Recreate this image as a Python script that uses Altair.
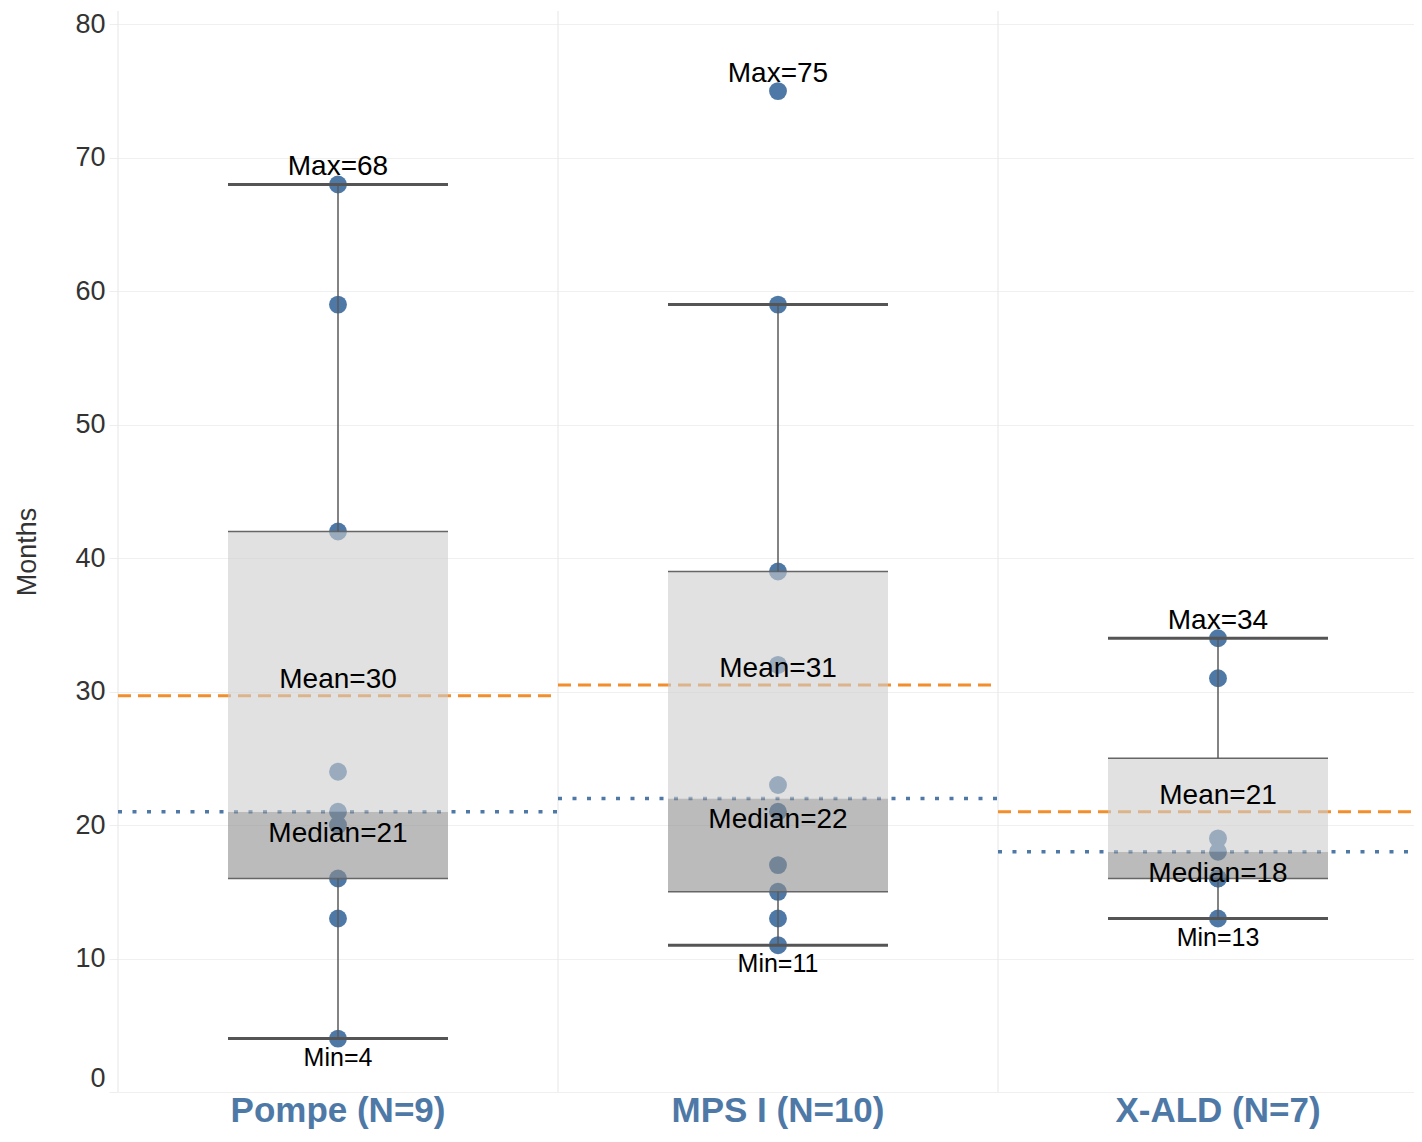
import altair as alt
import pandas as pd

# ---- data ----
categories = ["Pompe (N=9)", "MPS I (N=10)", "X-ALD (N=7)"]
pompe_values = [68, 59, 42, 24, 21, 20, 16, 13, 4]
mps_values = [75, 59, 39, 32, 23, 21, 17, 15, 13, 11]
xald_values = [34, 31, 19, 18, 16, 16, 13]

q1_values = [16, 15, 16]
median_values = [21, 22, 18]
q3_values = [42, 39, 25]
mean_values = [29.7, 30.5, 21.0]
whisker_low = [4, 11, 13]
whisker_high = [68, 59, 34]
max_values = [68, 75, 34]
min_values = [4, 11, 13]
mean_labels = ["Mean=30", "Mean=31", "Mean=21"]
median_labels = ["Median=21", "Median=22", "Median=18"]
max_labels = ["Max=68", "Max=75", "Max=34"]
min_labels = ["Min=4", "Min=11", "Min=13"]

y_ticks = [0, 10, 20, 30, 40, 50, 60, 70, 80]

# ---- tables ----
rows = []
for cat, vals in zip(categories, [pompe_values, mps_values, xald_values]):
    for v in vals:
        rows.append({"category": cat, "value": v})
points = pd.DataFrame(rows)

stats = pd.DataFrame({
    "category": categories,
    "q1": q1_values,
    "median": median_values,
    "q3": q3_values,
    "mean": mean_values,
    "wlo": whisker_low,
    "whi": whisker_high,
    "max": max_values,
    "min": min_values,
    "mean_label": mean_labels,
    "median_label": median_labels,
    "max_label": max_labels,
    "min_label": min_labels,
})

FONT = "Liberation Sans"
xscale = alt.Scale(domain=categories, range=[0, 1320], paddingInner=0, paddingOuter=0)
yscale = alt.Scale(domain=[0, 81], nice=False, zero=False)

x_axis = alt.Axis(
    title=None, labelFontSize=35, labelFont=FONT, labelFontWeight="bold",
    labelColor="#4e79a7", ticks=False, domain=False, grid=False, labelPadding=1,
    labelAngle=0, labelBaseline="top", labelLimit=600,
)


def X(bp=0.5, axis=None):
    if axis is None:
        return alt.X("category:N", scale=xscale, sort=categories, bandPosition=bp, title=None)
    return alt.X("category:N", scale=xscale, sort=categories, bandPosition=bp, axis=axis, title=None)


def X2(bp):
    return alt.X2("category", bandPosition=bp)


y_axis = alt.Axis(
    title="Months", values=y_ticks, titleFont=FONT, titleFontSize=27,
    titleFontWeight="normal", titleColor="#333333", titlePadding=33,
    labelFont=FONT, labelFontSize=27, labelColor="#333333", labelPadding=4,
    tickSize=9, tickColor="#eeeeee", gridColor="#f0f0f0", domain=False,
    labelBaseline={"condition": {"test": "datum.value == 0", "value": "bottom"}, "value": "middle"},
)

base_s = alt.Chart(stats)

dividers = base_s.mark_rule(color="#e6e6e6", strokeWidth=1).encode(x=X(0, x_axis))

mean_lines = base_s.mark_rule(color="#f28e2b", strokeDash=[13, 7], strokeWidth=3).encode(
    x=X(0), x2=X2(1), y=alt.Y("mean:Q", scale=yscale, axis=y_axis)
)
median_lines = base_s.mark_rule(color="#4e79a7", strokeDash=[4, 10.5], strokeWidth=3.5).encode(
    x=X(0), x2=X2(1), y=alt.Y("median:Q", scale=yscale)
)

dots = alt.Chart(points).mark_circle(size=320, color="#4e79a7", opacity=1).encode(
    x=X(0.5), y=alt.Y("value:Q", scale=yscale)
)

box_low = base_s.mark_bar(color="#8e8e8e", opacity=0.6, width=alt.RelativeBandSize(0.5)).encode(
    x=X(0.5), y=alt.Y("q1:Q", scale=yscale), y2="median:Q"
)
box_high = base_s.mark_bar(color="#cdcdcd", opacity=0.6, width=alt.RelativeBandSize(0.5)).encode(
    x=X(0.5), y=alt.Y("median:Q", scale=yscale), y2="q3:Q"
)

edge_q1 = base_s.mark_rule(color="#666666", strokeWidth=1.5).encode(
    x=X(0.25), x2=X2(0.75), y=alt.Y("q1:Q", scale=yscale)
)
edge_q3 = base_s.mark_rule(color="#666666", strokeWidth=1.5).encode(
    x=X(0.25), x2=X2(0.75), y=alt.Y("q3:Q", scale=yscale)
)
whisk_hi = base_s.mark_rule(color="#5a5a5a", strokeWidth=1.5).encode(
    x=X(0.5), y=alt.Y("q3:Q", scale=yscale), y2="whi:Q"
)
whisk_lo = base_s.mark_rule(color="#5a5a5a", strokeWidth=1.5).encode(
    x=X(0.5), y=alt.Y("wlo:Q", scale=yscale), y2="q1:Q"
)
cap_hi = base_s.mark_rule(color="#555555", strokeWidth=3).encode(
    x=X(0.25), x2=X2(0.75), y=alt.Y("whi:Q", scale=yscale)
)
cap_lo = base_s.mark_rule(color="#555555", strokeWidth=3).encode(
    x=X(0.25), x2=X2(0.75), y=alt.Y("wlo:Q", scale=yscale)
)


def label(field, text_field, dy, size):
    return base_s.mark_text(font=FONT, fontSize=size, color="black", baseline="middle", dy=dy).encode(
        x=X(0.5), y=alt.Y(f"{field}:Q", scale=yscale), text=f"{text_field}:N"
    )


t_max = label("max", "max_label", -17, 28)
t_min = label("min", "min_label", 19, 25)
t_mean = label("mean", "mean_label", -16, 28)
t_median = label("median", "median_label", 22, 28)

chart = alt.layer(
    dividers, mean_lines, median_lines, dots, box_low, box_high,
    edge_q1, edge_q3, whisk_hi, whisk_lo, cap_hi, cap_lo,
    t_max, t_min, t_mean, t_median,
).properties(
    width=1296, height=1081,
    autosize=alt.AutoSizeParams(type="none"),
    padding={"left": 110, "top": 3, "right": 0, "bottom": 38},
    background="white",
).configure_view(stroke=None)

chart.save("out.html", embed_options={"renderer": "svg", "actions": False})
